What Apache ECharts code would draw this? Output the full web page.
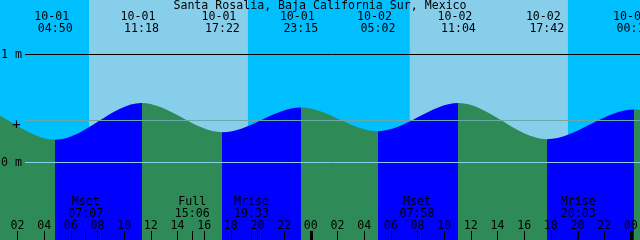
<!DOCTYPE html>
<html><head><meta charset="utf-8">
<script src="https://cdn.jsdelivr.net/npm/echarts@6/dist/echarts.min.js"></script>
<style>html,body{margin:0;padding:0;background:#00BFFF}#c{width:640px;height:240px}</style>
</head><body><div id="c"></div>
<script>
// ---------- data ----------
const chartTitle = 'Santa Rosalia, Baja California Sur, Mexico';
// tide extremes (the first two and the last fall outside the window)
const tideTimes   = ['09-30 16:55','09-30 22:27','10-01 04:50','10-01 11:18','10-01 17:22','10-01 23:15','10-02 05:02','10-02 11:04','10-02 17:42','10-03 00:14','10-03 06:20'];
const tideHeights = [0.26, 0.52, 0.21, 0.55, 0.28, 0.51, 0.29, 0.55, 0.215, 0.49, 0.29];
const tideLabelled = [false, false, true, true, true, true, true, true, true, true, false];
// daylight
const sunRises = ['10-01 07:22', '10-02 07:25'];
const sunSets  = ['10-01 19:17', '10-02 19:17'];
// moon events
const moonTimes  = ['10-01 07:07', '10-01 15:06', '10-01 19:33', '10-02 07:58', '10-02 20:03'];
const moonEvents = ['Mset', 'Full', 'Mrise', 'Mset', 'Mrise'];
// hour ticks, hours after 10-01 00:00
const hourTicks = [2,4,6,8,10,12,14,16,18,20,22,24,26,28,30,32,34,36,38,40,42,44,46,48];
const midnightTicks = [24, 48];
// reference levels (m)
const depthTicks = [0, 1];
const meanLevel = 0.389;
// window: hours after 10-01 00:00
const windowStart = 0.6875, windowHours = 48;

// ---------- helpers ----------
function toHours(s) {
  const [d, t] = s.split(' ');
  const [mo, da] = d.split('-').map(Number);
  const [hh, mm] = t.split(':').map(Number);
  return (Date.UTC(2000, mo - 1, da, hh, mm) - Date.UTC(2000, 9, 1)) / 3600000;
}
const FONT = 'DejaVu Sans Mono';
const FS = 11.6;
const tideX = tideTimes.map(toHours);
const tideData = tideX.map((x, i) => [x, tideHeights[i]]);
const labelledX = tideX.filter((x, i) => tideLabelled[i]);
const moonX = moonTimes.map(toHours);
const pieces = [];
for (let i = 0; i < tideX.length - 1; i++) {
  pieces.push({gte: tideX[i], lt: tideX[i + 1], color: tideHeights[i + 1] > tideHeights[i] ? '#0000FF' : '#2E8B57'});
}
function findIdx(arr, v) { let b = 0; for (let i = 0; i < arr.length; i++) if (Math.abs(arr[i] - v) < Math.abs(arr[b] - v)) b = i; return b; }

// y range so 1 m sits at row 54, 0 m at row 162 (108 px per metre)
const pxPerM = 108, zeroY = 162.5, H = 240;
const yMax = zeroY / pxPerM, yMin = (zeroY - H) / pxPerM;
const xMin = windowStart, xMax = windowStart + windowHours;

const baseX = {type: 'value', min: xMin, max: xMax, gridIndex: 0, z: 10, axisLine: {show: false, onZero: false}, splitLine: {show: false}};
const lbl = {fontFamily: FONT, fontSize: FS, color: '#000'};

const chart = echarts.init(document.getElementById('c'), null, {renderer: 'canvas'});
chart.setOption({
  animation: false,
  backgroundColor: '#00BFFF',
  title: {text: chartTitle, left: 'center', top: 0, padding: 0, z: 10, textStyle: {fontFamily: FONT, fontSize: FS, fontWeight: 'normal', color: '#000', lineHeight: 12}},
  grid: {left: 0, right: 0, top: 0, bottom: 0, containLabel: false, outerBoundsMode: 'none'},
  xAxis: [
    Object.assign({}, baseX, {position: 'bottom',
      axisTick: {show: true, inside: true, length: 9, customValues: hourTicks, lineStyle: {color: '#000', width: 1}},
      axisLabel: Object.assign({show: true, inside: true, margin: 14, verticalAlign: 'middle', customValues: hourTicks,
        formatter: v => String(Math.round(v) % 24).padStart(2, '0')}, lbl)}),
    Object.assign({}, baseX, {position: 'bottom',
      axisTick: {show: true, inside: true, length: 9, customValues: midnightTicks, lineStyle: {color: '#000', width: 3}},
      axisLabel: {show: false}}),
    Object.assign({}, baseX, {position: 'bottom',
      axisTick: {show: true, inside: true, length: 9, customValues: moonX, lineStyle: {color: '#000', width: 1}},
      axisLabel: Object.assign({show: true, inside: true, margin: 32, verticalAlign: 'middle', lineHeight: 11.5, customValues: moonX,
        formatter: v => { const i = findIdx(moonX, v); return moonEvents[i] + '\n' + moonTimes[i].split(' ')[1]; }}, lbl)}),
    Object.assign({}, baseX, {position: 'top',
      axisTick: {show: false},
      axisLabel: Object.assign({show: true, inside: true, margin: 23, verticalAlign: 'middle', lineHeight: 12, customValues: labelledX,
        formatter: v => { const i = findIdx(tideX, v); const p = tideTimes[i].split(' '); return p[0] + ' \n' + p[1]; }}, lbl)})
  ],
  yAxis: {type: 'value', min: yMin, max: yMax, z: 10, axisLine: {show: false, onZero: false}, axisTick: {show: false}, splitLine: {show: false},
    axisLabel: Object.assign({show: true, inside: true, margin: 1, padding: [0, 0, 3, 0], customValues: depthTicks, formatter: '{value} m'}, lbl)},
  visualMap: {type: 'piecewise', show: false, dimension: 0, seriesIndex: 0, pieces: pieces, outOfRange: {color: '#2E8B57'}},
  series: [{
    type: 'line', xAxisIndex: 0, yAxisIndex: 0, data: tideData,
    smooth: 1 / 3, smoothMonotone: 'x', showSymbol: false, symbol: 'none',
    lineStyle: {width: 0}, areaStyle: {opacity: 1, origin: 'start'}, z: 2, silent: true,
    markArea: {silent: true, itemStyle: {color: '#87CEEB'}, z: 1,
      data: sunRises.map((r, i) => [{xAxis: toHours(r)}, {xAxis: toHours(sunSets[i])}])},
    markLine: {silent: true, symbol: ['none', 'none'], label: {show: false}, z: 5,
      data: [
        [{x: 25, yAxis: 1, lineStyle: {color: '#000', width: 1, type: 'solid'}}, {x: 640, yAxis: 1}],
        [{x: 25, yAxis: meanLevel, lineStyle: {color: '#66AAAA', width: 1, type: 'solid'}}, {x: 640, yAxis: meanLevel}],
        [{x: 25, yAxis: 0, lineStyle: {color: '#87CEEB', width: 1, type: 'solid'}}, {x: 640, yAxis: 0}]
      ]}
  }],
  graphic: [{type: 'text', x: 16.5, y: 125.5, z: 10,
    style: {text: '+', fontFamily: FONT, fontSize: 14, fill: '#000', align: 'center', verticalAlign: 'middle'}}]
});
</script></body></html>
